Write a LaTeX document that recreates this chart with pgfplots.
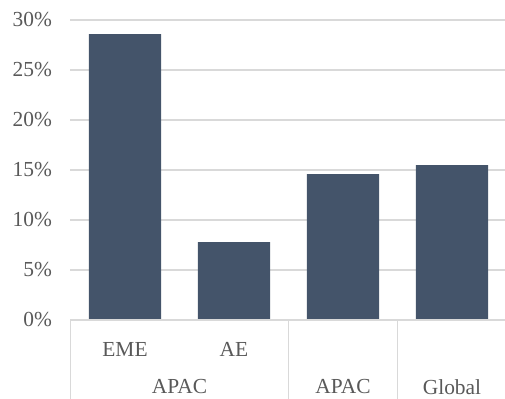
\documentclass[border=0pt]{standalone}
\usepackage{pgfplots}
\pgfplotsset{compat=1.18}
\usepackage{fontspec}
\setmainfont{Liberation Serif}
\definecolor{barblue}{HTML}{44546A}
\definecolor{gridgray}{HTML}{D9D9D9}
\definecolor{labelgray}{HTML}{595959}
\begin{document}
\begin{tikzpicture}
\begin{axis}[
  name=main,
  scale only axis,
  width=436bp, height=300bp,
  xmin=-0.5, xmax=3.5,
  ymin=0, ymax=30,
  axis line style={draw=none},
  ytick={0,5,...,30},
  yticklabel={\pgfmathprintnumber[assume math mode=true]{\tick}\%},
  y tick label style={font=\fontsize{21.5}{24}\selectfont, text=labelgray, xshift=-15bp},
  xtick=\empty,
  major tick length=0pt,
  ymajorgrids,
  grid style={gridgray, line width=1.2bp},
  clip=false,
]
\addplot[ybar, bar width=0.665, fill=barblue, draw=none]
  coordinates {(0,28.6) (1,7.8) (2,14.6) (3,15.5)};
% baseline of the value axis
\draw[gridgray, line width=1.2bp] (axis cs:-0.5,0) -- (axis cs:3.5,0);
% separators of the category table
\foreach \sx in {-0.5,1.5,2.5,3.5} {
  \edef\temp{\noexpand\draw[gridgray, line width=1.2bp] (axis cs:\sx,0) -- ([yshift=-90bp]axis cs:\sx,0);}
  \temp
}
% category labels, inner level
\begin{scope}[every node/.style={font=\fontsize{21.5}{24}\selectfont, text=labelgray, inner sep=0pt}]
\node at ([yshift=-29bp]axis cs:0,0) {EME};
\node at ([yshift=-29bp]axis cs:1,0) {AE};
% category labels, outer level
\node at ([yshift=-67bp]axis cs:0.5,0) {APAC};
\node at ([yshift=-67bp]axis cs:2,0) {APAC};
\node at ([yshift=-67bp]axis cs:3,0) {Global};
\end{scope}
\end{axis}
\pgfresetboundingbox
\path[use as bounding box] ([xshift=-70.5bp,yshift=-79bp]main.south west) rectangle ([xshift=-1.5bp,yshift=20bp]main.north east);
\end{tikzpicture}
\end{document}
